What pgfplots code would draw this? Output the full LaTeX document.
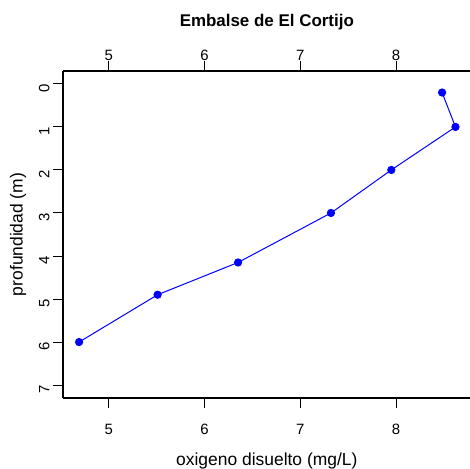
\documentclass[border=0pt]{standalone}
\usepackage{pgfplots}
\pgfplotsset{compat=1.18}
\usepackage{fontspec}
\setmainfont{Liberation Sans}
\begin{document}
\begin{tikzpicture}[x=1bp,y=1bp]
\pgfplotsset{common/.style={
  scale only axis, width=407.6bp, height=327bp,
  at={(63bp,71bp)}, anchor=south west,
  xmin=4.522, xmax=8.778, ymin=-0.3, ymax=7.3, y dir=reverse,
  tick align=outside, major tick length=10bp,
  xtick={5,6,7,8}, ytick={0,1,2,3,4,5,6,7},
  /pgf/number format/assume math mode=true,
  tick label style={font=\fontsize{15}{17}\selectfont, text=black},
}}
\useasboundingbox (0,0) rectangle (470,469);
\begin{axis}[common,
  axis x line*=box, axis y line*=left,
  axis line style={-, black, line width=1.3bp},
  tick style={black, line width=1bp},
  xtick pos=both, ytick pos=left,
  xticklabel pos=lower,
  xticklabel style={yshift=-13bp},
  yticklabel style={rotate=90, anchor=south, xshift=-4bp},
  xlabel={oxigeno disuelto (mg/L)},
  ylabel={profundidad (m)},
  label style={font=\fontsize{17.5}{19}\selectfont},
  xlabel style={at={(axis description cs:0.5,-0.1927)}, anchor=center},
  ylabel style={at={(axis description cs:-0.1104,0.5)}, anchor=center},
  every axis title shift=0pt,
  title={Embalse de El Cortijo},
  title style={at={(axis description cs:0.5,1.1346)}, anchor=base, yshift=0pt, font=\bfseries\fontsize{17}{19}\selectfont},
]
\addplot[blue, line width=1bp, mark=*, mark size=3.6bp, mark options={fill=blue}] coordinates {
(8.48,0.2) (8.62,1.0) (7.95,2.0) (7.32,3.0) (6.35,4.15) (5.51,4.9) (4.69,6.0)
};
\end{axis}
\begin{axis}[common,
  axis line style={draw=none},
  tick style={draw=none},
  ytick=\empty,
  xticklabel pos=upper,
  xticklabel style={yshift=-3bp},
]
\end{axis}
\end{tikzpicture}
\end{document}
